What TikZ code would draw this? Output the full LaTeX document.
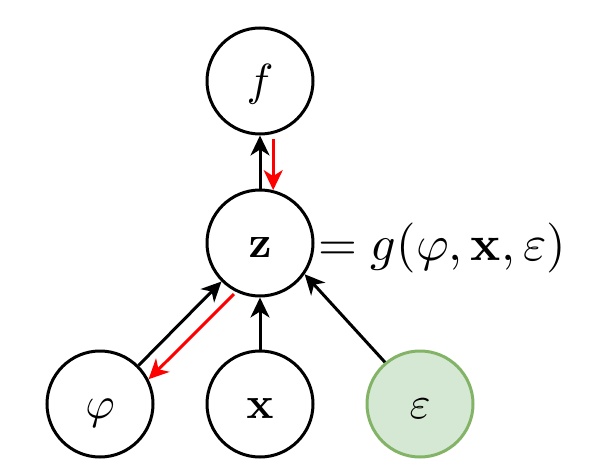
\documentclass[tikz,border=0pt]{standalone}
\usepackage{graphicx}
\usepackage{amsmath}
\usetikzlibrary{arrows.meta}
\definecolor{gfill}{HTML}{D5E8D4}
\definecolor{gline}{HTML}{82B366}
\newcommand{\bigtxt}[1]{\scalebox{4.5}{$#1$}}
\begin{document}
\begin{tikzpicture}[x=1pt,y=-1pt,
  var/.style={circle,draw=black,line width=3pt,minimum size=106pt,inner sep=0pt,text height=35pt,text depth=6pt},
  arr/.style={line width=3pt,-{Stealth[length=20pt,width=19pt,inset=6pt]}},
  redarr/.style={arr,red}]
\useasboundingbox (0,0) rectangle (589,476);
\node[var] (f) at (260,81) {\bigtxt{f}};
\node[var] (z) at (260,243) {\bigtxt{\mathbf{z}}};
\node[var] (phi) at (100,404) {\bigtxt{\varphi}};
\node[var] (x) at (260,404) {\bigtxt{\mathbf{x}}};
\node[var,fill=gfill,draw=gline] (eps) at (420,404) {\bigtxt{\varepsilon}};
\node[anchor=west,inner sep=0pt] (lab) at (318,248) {\scalebox{5}{$=g(\varphi,\mathbf{x},\varepsilon)$}};
\draw[arr] (z.north) -- (f.south);
\draw[redarr,shorten <=5pt] (f.-76) -- (z.76);
\draw[arr] (phi.45) -- (z.225);
\draw[redarr,shorten <=3pt] (z.244) -- (phi.27);
\draw[arr] (x) -- (z);
\draw[arr] (eps.130) -- (z.-35);
\end{tikzpicture}
\end{document}
